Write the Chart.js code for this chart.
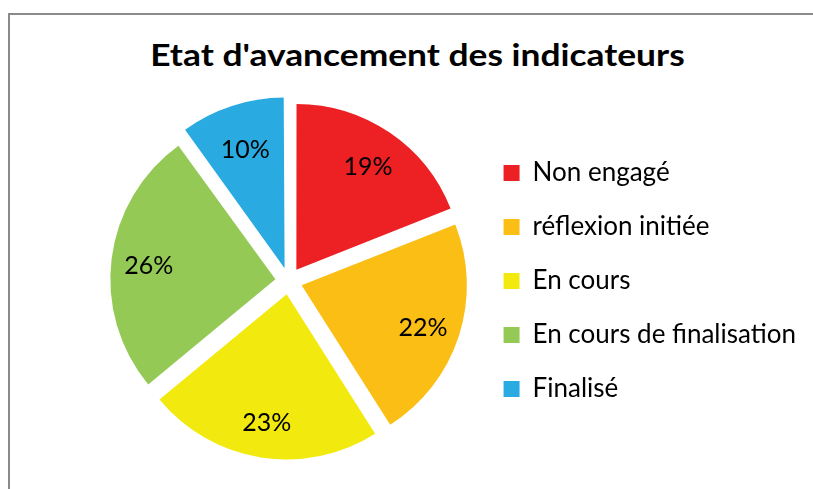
<!DOCTYPE html>
<html>
<head>
<meta charset="utf-8">
<script src="https://cdn.jsdelivr.net/npm/chart.js@4/dist/chart.umd.min.js"></script>
<style>
  html, body { margin: 0; padding: 0; background: #fff; overflow: hidden; }
  #frame {
    position: absolute; left: 8px; top: 13px; width: 900px; height: 600px;
    border-left: 2px solid #8a8a8a; border-top: 2px solid #8a8a8a;
  }
  #title {
    position: absolute; left: 0; width: 835px; top: 35px;
    text-align: center; font: bold 31px Lato, sans-serif; color: #000;
    transform: scaleX(1.14); transform-origin: 417.5px 0;
  }
  #wrap { position: absolute; left: 0; top: 0; width: 813px; height: 489px; }
</style>
</head>
<body>
<div id="frame"></div>
<div id="title">Etat d'avancement des indicateurs</div>
<div id="wrap"><canvas id="chart"></canvas></div>
<script>
const categories = ["Non engagé", "réflexion initiée", "En cours", "En cours de finalisation", "Finalisé"];
const values = [19, 22, 23, 26, 10];
const colors = ["#ED2024", "#FBBE14", "#F2EA0E", "#93C954", "#29ABE2"];

// draws the percentage inside each slice
const pctLabels = {
  id: "pctLabels",
  afterDatasetsDraw(chart) {
    const ctx = chart.ctx;
    const meta = chart.getDatasetMeta(0);
    const total = values.reduce((a, b) => a + b, 0);
    ctx.save();
    ctx.font = "25px Lato, sans-serif";
    ctx.fillStyle = "#000";
    ctx.textAlign = "center";
    ctx.textBaseline = "middle";
    meta.data.forEach((arc, i) => {
      const p = arc.getProps(["x", "y", "startAngle", "endAngle", "outerRadius"], true);
      const mid = (p.startAngle + p.endAngle) / 2;
      const d = p.outerRadius * 0.855;
      const pct = Math.round(values[i] / total * 100) + "%";
      ctx.fillText(pct, p.x + Math.cos(mid) * d, p.y + Math.sin(mid) * d + 3);
    });
    ctx.restore();
  },
};

new Chart(document.getElementById("chart"), {
  type: "pie",
  data: {
    labels: categories,
    datasets: [
      {
        data: values,
        backgroundColor: colors,
        borderWidth: 0,
        offset: 54,
      },
    ],
  },
  options: {
    responsive: true,
    maintainAspectRatio: false,
    animation: false,
    radius: 165,
    layout: {
      padding: { left: 102, top: 102, bottom: 29, right: 7 },
    },
    plugins: {
      title: { display: false },
      tooltip: { enabled: false },
      legend: {
        position: "right",
        labels: {
          boxWidth: 16,
          boxHeight: 16,
          padding: 28,
          color: "#000",
          font: { family: "Lato", size: 26 },
        },
      },
    },
  },
  plugins: [pctLabels],
});
</script>
</body>
</html>
